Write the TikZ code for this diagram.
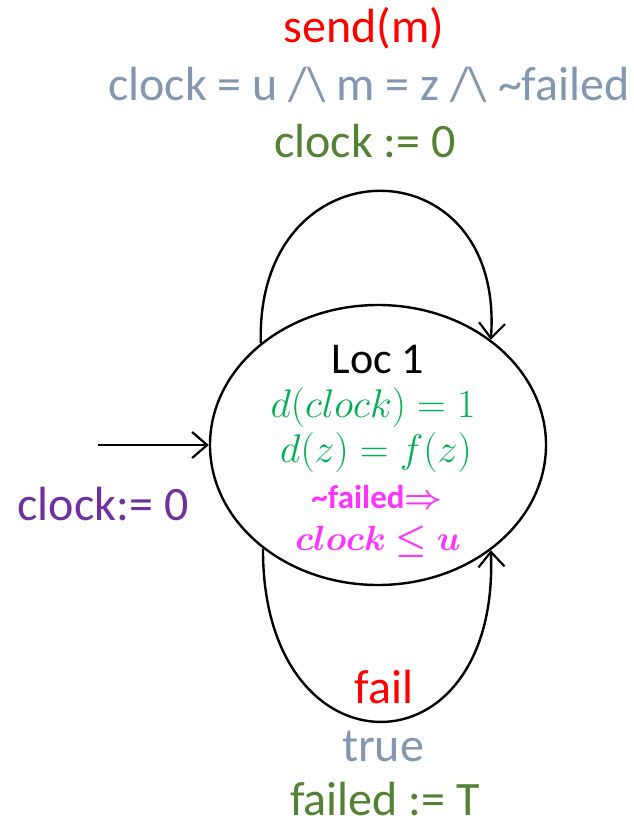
\RequirePackage{fix-cm}
\documentclass[tikz,border=0pt]{standalone}
\usepackage{amsmath,amssymb}
\usepackage{bm}
\usepackage{fontspec}
\setmainfont{Carlito}
\usetikzlibrary{shapes, arrows.meta, positioning}

\definecolor{evred}{HTML}{FF0000}
\definecolor{guardgray}{HTML}{8497B0}
\definecolor{resetgreen}{HTML}{548235}
\definecolor{flowgreen}{HTML}{00B050}
\definecolor{invpink}{HTML}{FF33FF}
\definecolor{initpurple}{HTML}{7030A0}

\begin{document}
\begin{tikzpicture}[x=1pt, y=-1pt, line width=2.4pt,
    >={Straight Barb[length=15pt,width=26pt,line width=2.2pt]},
    lbl/.style={anchor=base, inner sep=0pt, font=\fontsize{48}{52}\selectfont},
    flow/.style={anchor=base, inner sep=0pt, text=flowgreen, font=\fontsize{40}{44}\selectfont}]
    \useasboundingbox (0,0) rectangle (633,825);

    % Location
    \node (loc) [ellipse, draw, minimum width=336pt, minimum height=280pt, inner sep=0pt] at (378,445) {};
    \node (name) [lbl, font=\fontsize{44}{48}\selectfont] at (378,373) {Loc 1};
    \node (rate1) [flow] at (373,417) {$d(clock)=1$};
    \node (rate2) [flow] at (376,462) {$d(z)=f(z)$};
    \node (inv1) [anchor=base, inner sep=0pt, text=invpink, font=\fontsize{33}{36}\selectfont\bfseries] at (377,508) {\textasciitilde failed$\bm{\Rightarrow}$};
    \node (inv2) [anchor=base, inner sep=0pt, text=invpink, font=\fontsize{35}{38}\selectfont] at (378,550) {$\bm{clock\le u}$};

    % Initial edge
    \coordinate (start) at (98,445);
    \node (init) [lbl, text=initpurple] at (103,520) {clock:= 0};

    % send edge
    \node (send) [lbl, text=evred] at (364,42) {send(m)};
    \node (sendguard) [lbl, text=guardgray] at (369,100) {clock = u {/}\textbackslash{} m = z {/}\textbackslash{} \textasciitilde failed};
    \node (sendreset) [lbl, text=resetgreen] at (365,157) {clock := 0};

    % fail edge
    \node (fail) [lbl, text=evred] at (384,703) {fail};
    \node (failguard) [lbl, text=guardgray] at (383,761) {true};
    \node (failreset) [lbl, text=resetgreen] at (385,815) {failed := T};

    % Connections
    \draw[->] (start) -- (loc.west);
    \draw[->] (loc.139) .. controls (255,141) and (505,141) .. (loc.43);
    \draw[->] (loc.-138) .. controls (262,779) and (500,779) .. (loc.-43);

\end{tikzpicture}
\end{document}
